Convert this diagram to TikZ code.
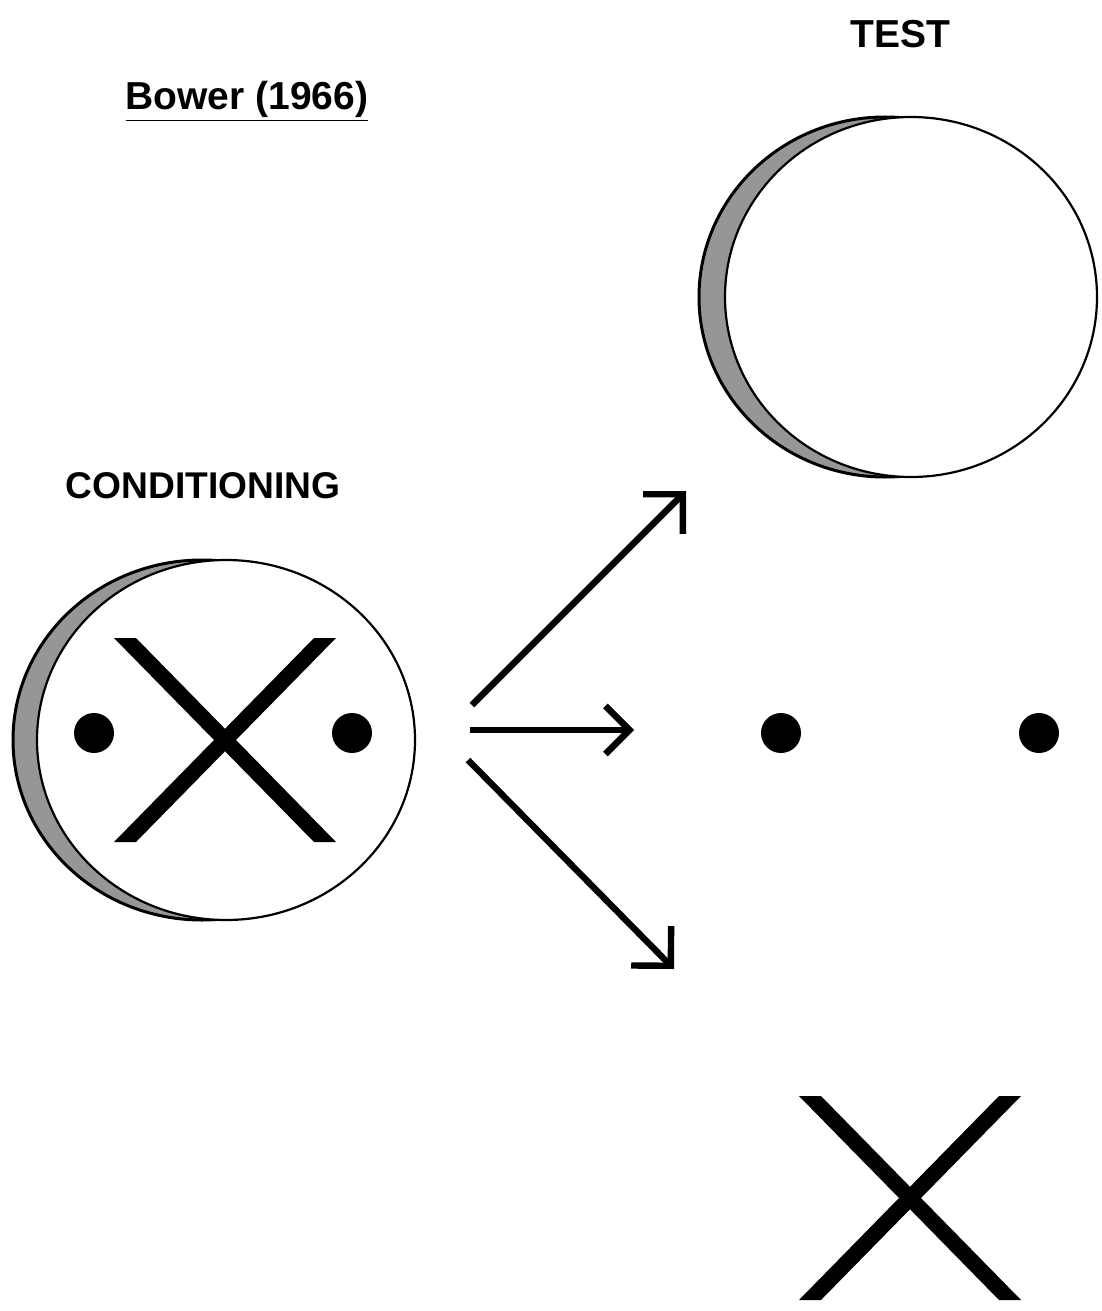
\documentclass[tikz,border=0pt]{standalone}
\usepackage{fontspec}
\setmainfont{Liberation Sans}
\usetikzlibrary{arrows.meta,shapes.geometric}
\definecolor{shadowgrey}{RGB}{150,150,150}

% one big X, centred at (#1,#2), in pixel units
\newcommand{\stimcross}[2]{%
  \fill ({#1-111},{#2-102}) -- ({#1-89},{#2-102}) -- ({#1+111},{#2+102}) -- ({#1+89},{#2+102}) -- cycle;
  \fill ({#1+111},{#2-102}) -- ({#1+89},{#2-102}) -- ({#1-111},{#2+102}) -- ({#1-89},{#2+102}) -- cycle;
}

\tikzset{
  heading/.style={font=\fontsize{19.5}{23}\selectfont\bfseries, inner sep=0pt, anchor=base},
  facedisc/.style={ellipse, draw=black, line width=1.1pt, fill=white, inner sep=0pt,
                   minimum width=#1, minimum height=180pt},
  shadowdisc/.style={facedisc=#1, line width=1.5pt, fill=shadowgrey},
  stimdot/.style={circle, fill=black, inner sep=0pt, minimum size=20pt},
  fanarrow/.style={line width=3.2pt, -{Straight Barb[length=#1, width=2*#1]}},
  fanarrow/.default=14pt
}

\begin{document}
\begin{tikzpicture}[x=0.5pt, y=-0.5pt]
  \useasboundingbox (0,0) rectangle (1102,1311);

  % titles
  \node[heading] (bower) at (247,110) {\underline{Bower (1966)}};
  \node[heading] (test-title) at (900,48) {TEST};
  \node[heading, font=\fontsize{18.6}{22}\selectfont\bfseries] (cond-title) at (203,498) {CONDITIONING};

  % conditioning compound
  \node[shadowdisc=189pt] (cond-shadow) at (202,740) {};
  \node[facedisc=189pt] (cond) at (226,740) {};
  \stimcross{225}{740}
  \node[stimdot] (cond-left) at (94,733) {};
  \node[stimdot] (cond-right) at (352,733) {};

  % test: blank disc
  \node[shadowdisc=186pt] (test-shadow) at (885,297) {};
  \node[facedisc=186pt] (test) at (911,297) {};

  % test: the two dots
  \node[stimdot] (test-left) at (781,733) {};
  \node[stimdot] (test-right) at (1039,733) {};

  % test: X alone
  \stimcross{910}{1198}

  % arrows out of the conditioning disc
  \coordinate (fan-up) at (472,705);
  \coordinate (fan-mid) at (470,730);
  \coordinate (fan-down) at (468,760);
  \coordinate (to-up) at (686,491);
  \coordinate (to-mid) at (634,730);
  \coordinate (to-down) at (674,969);
  \draw[fanarrow] (fan-up) -- (to-up);
  \draw[fanarrow=12pt] (fan-mid) -- (to-mid);
  \draw[fanarrow] (fan-down) -- (to-down);
\end{tikzpicture}
\end{document}
